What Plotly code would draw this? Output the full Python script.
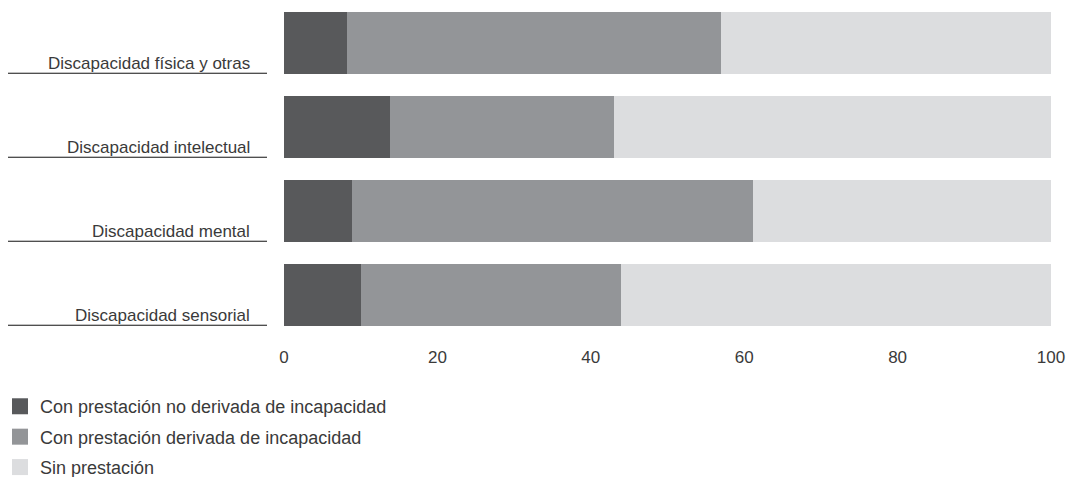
import plotly.graph_objects as go

# Categories (top to bottom) and percentage shares per benefit status
categories = [
    "Discapacidad física y otras",
    "Discapacidad intelectual",
    "Discapacidad mental",
    "Discapacidad sensorial",
]
no_derivada = [8.2, 13.8, 8.9, 10.0]
derivada = [48.8, 29.2, 52.2, 33.9]
sin_prestacion = [43.0, 57.0, 38.9, 56.1]

series_names = [
    "Con prestación no derivada de incapacidad",
    "Con prestación derivada de incapacidad",
    "Sin prestación",
]
series_values = [no_derivada, derivada, sin_prestacion]
colors = ["#58595b", "#939598", "#dcdddf"]

x_ticks = [0, 20, 40, 60, 80, 100]

font_family = "Liberation Sans"
text_color = "#3a3a3a"

fig = go.Figure()

for name, vals, col in zip(series_names, series_values, colors):
    fig.add_trace(go.Bar(
        y=categories, x=vals, orientation="h", name=name,
        marker=dict(color=col, line=dict(width=0)),
        showlegend=False,
    ))

# Legend entries drawn as square markers
for i, (name, col) in enumerate(zip(series_names, colors)):
    fig.add_trace(go.Scatter(
        x=[None], y=[None], mode="markers", name=name,
        legendgroup=f"g{i}",
        marker=dict(symbol="square", size=16, color=col),
    ))

# Category labels sitting on an underline to the left of each bar
for i, cat in enumerate(categories):
    fig.add_annotation(
        x=0, y=cat, xref="x", yref="y",
        text=cat, showarrow=False,
        xanchor="right", yanchor="bottom",
        xshift=-32, yshift=-32,
        font=dict(family=font_family, size=17, color=text_color),
    )
    fig.add_shape(
        type="line", xref="paper", yref="y",
        x0=-276 / 767, x1=-17 / 767,
        y0=i + 0.36, y1=i + 0.36,
        line=dict(color="#111111", width=1),
    )

fig.update_layout(
    barmode="stack",
    bargap=0.273,
    width=1069, height=477,
    margin=dict(l=284, r=18, t=1, b=140, autoexpand=False),
    plot_bgcolor="white", paper_bgcolor="white",
    font=dict(family=font_family, size=17, color=text_color),
    xaxis=dict(
        range=[0, 100], tickvals=x_ticks, showgrid=False, zeroline=False,
        showline=False, ticks="", ticklabelstandoff=8,
        tickfont=dict(size=17, color=text_color),
    ),
    yaxis=dict(
        autorange="reversed", showticklabels=False, showgrid=False,
        zeroline=False, showline=False, ticks="",
    ),
    legend=dict(
        x=-284 / 767, xanchor="left", xref="paper",
        y=-0.152, yanchor="top",
        tracegroupgap=4,
        font=dict(family=font_family, size=18, color=text_color),
        bgcolor="rgba(0,0,0,0)",
    ),
)

fig.write_html("out.html")
